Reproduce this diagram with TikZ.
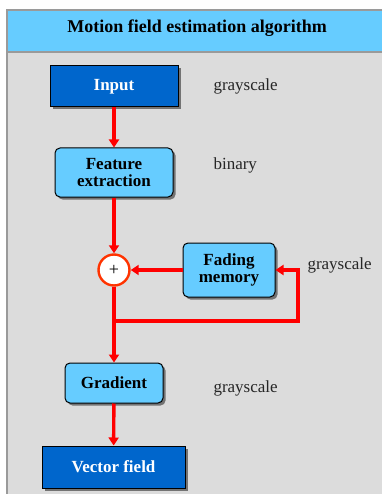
\documentclass[tikz,border=0pt]{standalone}
\usepackage{fontspec}
\setmainfont{Liberation Serif}
\usetikzlibrary{shadows,arrows.meta}
\definecolor{darkblue}{HTML}{0066CC}
\definecolor{lightblue}{HTML}{66CCFF}
\definecolor{bodygray}{HTML}{DCDCDC}
\definecolor{framegray}{HTML}{9A9A9A}
\definecolor{circred}{HTML}{FF3300}
\tikzset{
  shad/.style={drop shadow={shadow xshift=2.5pt, shadow yshift=-2.5pt, fill=black!55, opacity=1}},
  darkbox/.style={draw=black, line width=1pt, fill=darkblue, text=white, font=\fontsize{17}{19}\selectfont\bfseries, shad, inner sep=0pt},
  lightbox/.style={draw=black, line width=1pt, fill=lightblue, rounded corners=5pt, font=\fontsize{17}{17.5}\selectfont\bfseries, align=center, shad, inner sep=0pt},
  lbl/.style={anchor=west, font=\fontsize{17}{19}\selectfont, text=black!85},
  conn/.style={draw=red, line width=3.4pt, -{Triangle[length=8pt,width=10pt]}},
}
\begin{document}
\begin{tikzpicture}[x=1pt,y=-1pt]
\useasboundingbox (0,0) rectangle (382,494);
\fill[white] (0,0) rectangle (382,494);
% frame
\fill[bodygray] (7,52) rectangle (382,494);
\fill[lightblue] (7,10) rectangle (382,52);
\draw[framegray, line width=1.2pt] (382,10) -- (7,10) -- (7,494);
\draw[framegray, line width=1.2pt] (7,52) -- (382,52);
\node[font=\fontsize{18}{20}\selectfont\bfseries] (title) at (197,28) {Motion field estimation algorithm};
% nodes
\node[darkbox, minimum width=128pt, minimum height=41pt] (input) at (114,86.5) {Input};
\node[lightbox, minimum width=118pt, minimum height=49pt] (feat) at (114,172.5) {Feature\\extraction};
\node[draw=circred, line width=2.4pt, fill=white, circle, minimum size=31pt, inner sep=0pt, font=\fontsize{18}{20}\selectfont] (plus) at (114,270) {+};
\node[lightbox, minimum width=92pt, minimum height=54pt] (fade) at (229,270) {Fading\\memory};
\node[lightbox, minimum width=98pt, minimum height=40pt] (grad) at (114,383) {Gradient};
\node[darkbox, minimum width=143pt, minimum height=42pt] (vec) at (113.5,467) {Vector field};
% labels
\node[lbl] (l1) at (210,86) {grayscale};
\node[lbl] (l2) at (210,165) {binary};
\node[lbl] (l3) at (304,265) {grayscale};
\node[lbl] (l4) at (210,388) {grayscale};
% connectors
\coordinate (br) at (114,321);
\coordinate (rc) at (298,321);
\coordinate (rt) at (298,270);
\draw[conn] (input) -- (feat);
\draw[conn] (feat) -- (plus);
\draw[conn] (fade) -- (plus);
\draw[conn] (plus) -- (grad);
\draw[conn] (grad) -- (vec);
\draw[conn, line join=miter] (br) -- (rc) -- (rt) -- (fade.east);
\end{tikzpicture}
\end{document}
